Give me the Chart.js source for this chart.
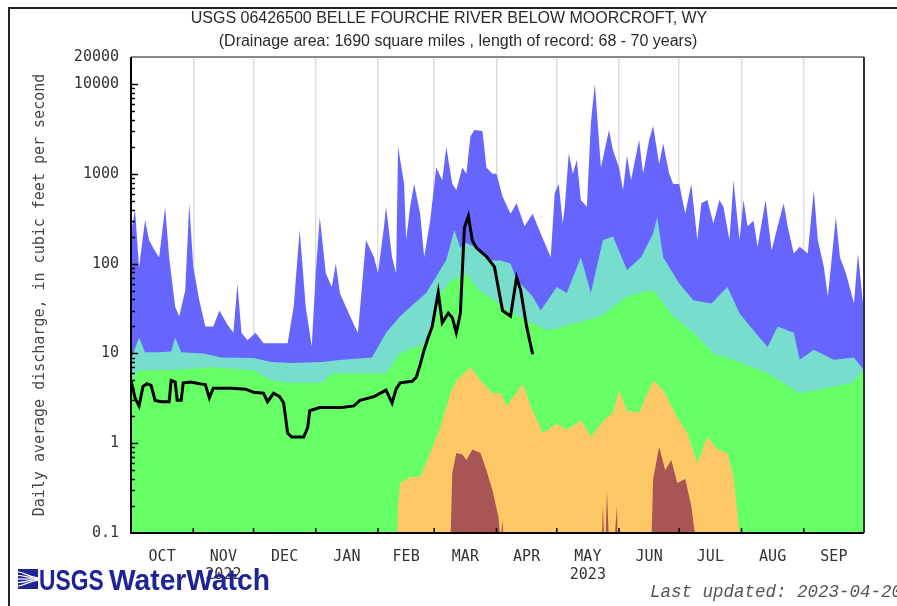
<!DOCTYPE html>
<html>
<head>
<meta charset="utf-8">
<title>USGS 06426500 Belle Fourche River below Moorcroft, WY</title>
<script src="https://cdn.jsdelivr.net/npm/chart.js@4/dist/chart.umd.min.js"></script>
<style>
  html, body { margin: 0; padding: 0; background: #fff; }
  #wrap { width: 897px; height: 606px; position: relative; }
</style>
</head>
<body>
<div id="wrap"><canvas id="flow"></canvas></div>
<script>
// water year 2023: x is days since Oct 1 2022, y is daily mean discharge (cfs)
const monthNames = ['OCT', 'NOV', 'DEC', 'JAN', 'FEB', 'MAR', 'APR', 'MAY', 'JUN', 'JUL', 'AUG', 'SEP'];
const monthStarts = [0, 31, 61, 92, 123, 151, 182, 212, 243, 273, 304, 335, 365];
const yearLabels = { 1: '2022', 7: '2023' };
const yTicks = [0.1, 1, 10, 100, 1000, 10000, 20000];

// daily statistics for the period of record, [day, cfs]
// values under 0.1 sit below the axis
const maxFlow = [
  [0, 220], [2, 400], [4, 90], [7, 306], [9, 183], [11, 150], [14, 117], [15, 180], [17, 430], [19, 117],
  [22, 33], [24, 26], [27, 50], [29, 470], [31, 92], [34, 39], [37, 20], [41, 20], [44, 30], [48, 21],
  [51, 17], [53, 60], [55, 17], [58, 14], [62, 17], [66, 13], [71, 13], [78, 13], [81, 33], [84, 237],
  [87, 33], [90, 12], [92, 78], [94, 330], [97, 78], [100, 55], [102, 100], [104, 47], [107, 33], [111, 21],
  [113, 17], [117, 183], [121, 118], [123, 78], [126, 260], [127, 430], [130, 118], [132, 78], [133, 2000], [136, 770],
  [137, 183], [139, 430], [141, 770], [144, 360], [146, 118], [149, 306], [152, 1175], [155, 850], [157, 2000], [160, 770],
  [162, 660], [165, 1175], [167, 1000], [169, 2600], [171, 3075], [175, 3000], [177, 1175], [180, 1000], [182, 1000], [185, 560],
  [189, 360], [192, 470], [196, 260], [200, 360], [204, 217], [209, 118], [211, 610], [213, 770], [215, 280], [216, 430],
  [218, 1700], [220, 1000], [222, 1425], [224, 511], [227, 430], [229, 3700], [231, 10000], [233, 2380], [234, 1175], [238, 3075],
  [240, 1840], [243, 1175], [245, 660], [247, 1600], [249, 850], [253, 2380], [255, 1000], [258, 2380], [260, 3400], [263, 1290],
  [265, 2180], [268, 1000], [270, 770], [273, 770], [276, 360], [279, 770], [282, 183], [284, 470], [287, 511], [290, 280],
  [293, 511], [295, 430], [298, 183], [300, 850], [303, 183], [305, 511], [307, 260], [310, 300], [312, 154], [316, 511],
  [319, 140], [322, 260], [325, 470], [327, 260], [330, 130], [333, 154], [337, 130], [340, 660], [342, 183], [345, 92],
  [347, 43], [351, 330], [353, 118], [356, 78], [360, 36], [362, 130], [365, 28]
];
const p90Flow = [
  [0, 8.5], [4, 15], [7, 10.3], [14, 10.3], [20, 10.5], [22, 15], [25, 10.3], [36, 10], [45, 9], [61, 8.9],
  [70, 8], [80, 7.8], [95, 8], [105, 8.5], [120, 9], [127, 17], [134, 26], [141, 36], [147, 47], [152, 72],
  [157, 110], [161, 237], [164, 150], [167, 170], [172, 150], [179, 108], [184, 108], [189, 100], [192, 66], [197, 51],
  [200, 43], [204, 30], [212, 55], [217, 47], [224, 118], [229, 47], [235, 183], [240, 200], [247, 85], [254, 118],
  [260, 217], [262, 330], [265, 118], [273, 60], [280, 39], [289, 36], [297, 55], [303, 28], [310, 18], [317, 11.8],
  [322, 20], [330, 17], [333, 8.5], [340, 11], [350, 8.5], [360, 9], [365, 6.5]
];
const p75Flow = [
  [0, 5], [4, 6.5], [20, 6.5], [40, 7], [61, 6.5], [70, 5], [80, 4.7], [95, 4.7], [100, 6], [110, 6],
  [127, 6], [134, 10], [141, 11.8], [145, 12], [149, 17], [151, 20], [154, 47], [160, 66], [165, 72], [167, 78],
  [169, 66], [173, 51], [180, 40], [185, 33], [193, 26], [200, 21.5], [208, 18], [234, 26], [247, 43], [260, 51],
  [270, 26], [280, 17], [290, 10], [300, 8.5], [317, 6], [333, 3.6], [349, 4.2], [359, 4.7], [365, 6.5]
];
const p25Flow = [
  [0, 0.01], [68, 0.01], [69, 0.12], [70, 0.01], [131, 0.01], [133, 0.2], [134, 0.36], [139, 0.42], [144, 0.42], [149, 0.78],
  [154, 1.5], [159, 3.6], [162, 5], [166, 6], [169, 7], [174, 5], [180, 3.6], [184, 3.6], [187, 2.6], [192, 3.6],
  [195, 4.6], [199, 2.6], [205, 1.3], [212, 1.66], [217, 1.4], [224, 1.8], [229, 1.18], [234, 1.66], [240, 2.2], [243, 3.9],
  [247, 2.3], [253, 2.2], [260, 5], [265, 3.9], [272, 1.95], [277, 1.3], [282, 0.6], [287, 1.18], [292, 0.85], [297, 0.78],
  [300, 0.42], [303, 0.1], [305, 0.01], [365, 0.01]
];
const p10Flow = [
  [0, 0.01], [158, 0.01], [160, 0.47], [162, 0.78], [165, 0.75], [167, 0.65], [170, 0.85], [174, 0.78], [177, 0.5], [180, 0.3],
  [183, 0.15], [184, 0.08], [185, 0.14], [186, 0.05], [233, 0.01], [235, 0.2], [236, 0.05], [237, 0.3], [238, 0.08], [240, 0.05],
  [242, 0.2], [243, 0.01], [258, 0.01], [260, 0.4], [263, 0.91], [266, 0.5], [269, 0.65], [272, 0.36], [276, 0.4], [279, 0.2],
  [281, 0.09], [282, 0.01], [365, 0.01]
];
// this year's daily flow through Apr 19
const currentFlow = [
  [0, 5.0], [2, 3.2], [4, 2.6], [6, 4.3], [8, 4.6], [10, 4.4], [12, 3.0], [15, 2.9], [19, 2.9], [20, 5.0],
  [22, 4.8], [23, 3.0], [25, 3.0], [26, 4.7], [30, 4.8], [34, 4.6], [37, 4.5], [39, 3.2], [41, 4.1], [50, 4.1],
  [57, 4.0], [61, 3.7], [66, 3.6], [68, 2.9], [71, 3.6], [74, 3.3], [76, 2.8], [78, 1.3], [80, 1.17], [86, 1.17],
  [88, 1.5], [89, 2.3], [94, 2.5], [105, 2.5], [111, 2.6], [114, 3.0], [121, 3.3], [127, 3.9], [130, 2.8], [132, 4.0],
  [134, 4.7], [140, 4.9], [142, 5.4], [144, 7.5], [146, 11], [148, 15], [150, 20], [153, 48], [155, 22], [158, 28],
  [160, 25], [162, 17], [164, 28], [166, 250], [168, 340], [170, 180], [172, 150], [177, 120], [181, 92], [185, 30],
  [189, 26], [192, 70], [194, 51], [197, 20], [200, 9.8]
];

const toPoints = rows => rows.map(r => ({ x: r[0], y: r[1] }));
const monthMids = monthNames.map((m, i) => (monthStarts[i] + monthStarts[i + 1]) / 2);

function band(label, rows, color, order) {
  return {
    label: label,
    data: toPoints(rows),
    borderWidth: 0,
    borderColor: color,
    backgroundColor: color,
    pointRadius: 0,
    fill: 'start',
    order: order
  };
}

const monoFont = "'DejaVu Sans Mono', monospace";

// frame, inner tick marks, headings and footer
const decorations = {
  id: 'decorations',
  afterDraw(chart) {
    const ctx = chart.ctx;
    const area = chart.chartArea;
    const xs = chart.scales.x;
    const ys = chart.scales.y;
    ctx.save();

    // outer frame
    ctx.strokeStyle = '#222';
    ctx.lineWidth = 2;
    ctx.beginPath();
    ctx.moveTo(9, 606);
    ctx.lineTo(9, 8);
    ctx.lineTo(897, 8);
    ctx.stroke();

    // plot frame
    ctx.lineWidth = 2;
    ctx.strokeStyle = '#8a8a8a';
    ctx.beginPath();
    ctx.moveTo(area.left, area.top);
    ctx.lineTo(area.right, area.top);
    ctx.stroke();
    ctx.strokeStyle = '#333';
    ctx.beginPath();
    ctx.moveTo(area.right, area.top);
    ctx.lineTo(area.right, area.bottom);
    ctx.stroke();
    ctx.strokeStyle = '#000';
    ctx.beginPath();
    ctx.moveTo(area.left, area.top);
    ctx.lineTo(area.left, area.bottom);
    ctx.lineTo(area.right, area.bottom);
    ctx.stroke();

    // log ticks along the left edge
    ctx.lineWidth = 1.5;
    for (let e = -1; e <= 4; e++) {
      for (let m = 1; m <= 9; m++) {
        const v = m * Math.pow(10, e);
        if (v <= 0.1 || v >= 20000) continue;
        const y = Math.round(ys.getPixelForValue(v)) + 0.5;
        ctx.beginPath();
        ctx.moveTo(area.left, y);
        ctx.lineTo(area.left + (m === 1 ? 7 : 4), y);
        ctx.stroke();
      }
    }
    // month ticks along the bottom
    monthStarts.slice(1, -1).forEach(d => {
      const x = xs.getPixelForValue(d);
      ctx.beginPath();
      ctx.moveTo(x, area.bottom);
      ctx.lineTo(x, area.bottom - 5);
      ctx.stroke();
    });

    // headings
    ctx.fillStyle = '#2a2a2a';
    ctx.textAlign = 'center';
    ctx.textBaseline = 'middle';
    ctx.font = "16px 'Liberation Sans', Arial, sans-serif";
    ctx.fillText('USGS 06426500 BELLE FOURCHE RIVER BELOW MOORCROFT, WY', 449, 19);
    ctx.fillText('(Drainage area: 1690 square miles , length of record: 68 - 70 years)', 458, 42);

    // last updated stamp
    ctx.fillStyle = '#555';
    ctx.textAlign = 'left';
    ctx.font = "italic 17.5px 'Liberation Mono', 'Courier New', monospace";
    ctx.fillText('Last updated: 2023-04-20', 650, 592);

    // WaterWatch logo
    const navy = '#1f2393';
    ctx.fillStyle = navy;
    ctx.fillRect(18, 569, 20, 20);
    ctx.strokeStyle = '#fff';
    ctx.lineWidth = 1.2;
    for (let i = 0; i < 5; i++) {
      const y0 = 572 + i * 3.5;
      ctx.beginPath();
      ctx.moveTo(18, y0);
      ctx.bezierCurveTo(24, y0, 28, 579 + (y0 - 579) * 0.3, 38, 579 + (y0 - 579) * 0.15);
      ctx.stroke();
    }
    ctx.fillStyle = navy;
    ctx.textBaseline = 'alphabetic';
    ctx.font = "bold 30px 'Liberation Sans', Arial, sans-serif";
    ctx.save();
    ctx.translate(39, 590);
    ctx.scale(0.76, 1);
    ctx.fillText('USGS', 0, 0);
    ctx.restore();
    ctx.save();
    ctx.translate(109, 590);
    ctx.scale(0.94, 1);
    ctx.fillText('WaterWatch', 0, 0);
    ctx.restore();

    ctx.restore();
  }
};

new Chart(document.getElementById('flow'), {
  type: 'line',
  data: {
    datasets: [
      {
        label: 'Current',
        data: toPoints(currentFlow),
        borderColor: '#000',
        borderWidth: 3,
        pointRadius: 0,
        fill: false,
        order: 0
      },
      band('Minimum - 10th percentile', p10Flow, '#aa5555', 1),
      band('10th - 25th percentile', p25Flow, '#fdc865', 2),
      band('25th - 75th percentile', p75Flow, '#66ff66', 3),
      band('75th - 90th percentile', p90Flow, '#77ddcc', 4),
      band('90th percentile - maximum', maxFlow, '#6666ff', 5)
    ]
  },
  options: {
    responsive: true,
    maintainAspectRatio: false,
    animation: false,
    layout: { padding: { top: 57, right: 33, bottom: 0, left: 0 } },
    elements: { line: { tension: 0 } },
    plugins: {
      legend: { display: false },
      tooltip: { enabled: false }
    },
    scales: {
      x: {
        type: 'linear',
        min: 0,
        max: 365,
        afterFit: s => { s.height = 73; },
        afterBuildTicks: s => {
          const vals = monthStarts.slice(1, -1).concat(monthMids).sort((a, b) => a - b);
          s.ticks = vals.map(v => ({ value: v }));
        },
        border: { display: false },
        grid: {
          drawTicks: false,
          lineWidth: 1.5,
          color: c => (monthStarts.includes(c.tick && c.tick.value) ? '#dddddd' : 'rgba(0,0,0,0)')
        },
        ticks: {
          autoSkip: false,
          maxRotation: 0,
          minRotation: 0,
          padding: 15,
          color: '#333',
          font: { family: monoFont, size: 15 },
          callback: value => {
            const m = monthMids.indexOf(value);
            if (m < 0) return '';
            return yearLabels[m] ? [monthNames[m], yearLabels[m]] : monthNames[m];
          }
        }
      },
      y: {
        type: 'logarithmic',
        min: 0.1,
        max: 20000,
        afterFit: s => { s.width = 131; },
        afterBuildTicks: s => { s.ticks = yTicks.map(v => ({ value: v })); },
        border: { display: false },
        grid: { display: false, drawTicks: false },
        ticks: {
          padding: 12,
          color: '#333',
          font: { family: monoFont, size: 15 },
          callback: value => String(value)
        },
        title: {
          display: true,
          text: 'Daily average discharge, in cubic feet per second',
          color: '#444',
          font: { family: monoFont, size: 15 },
          padding: { top: 31, bottom: 0 }
        }
      }
    }
  },
  plugins: [decorations]
});
</script>
</body>
</html>
